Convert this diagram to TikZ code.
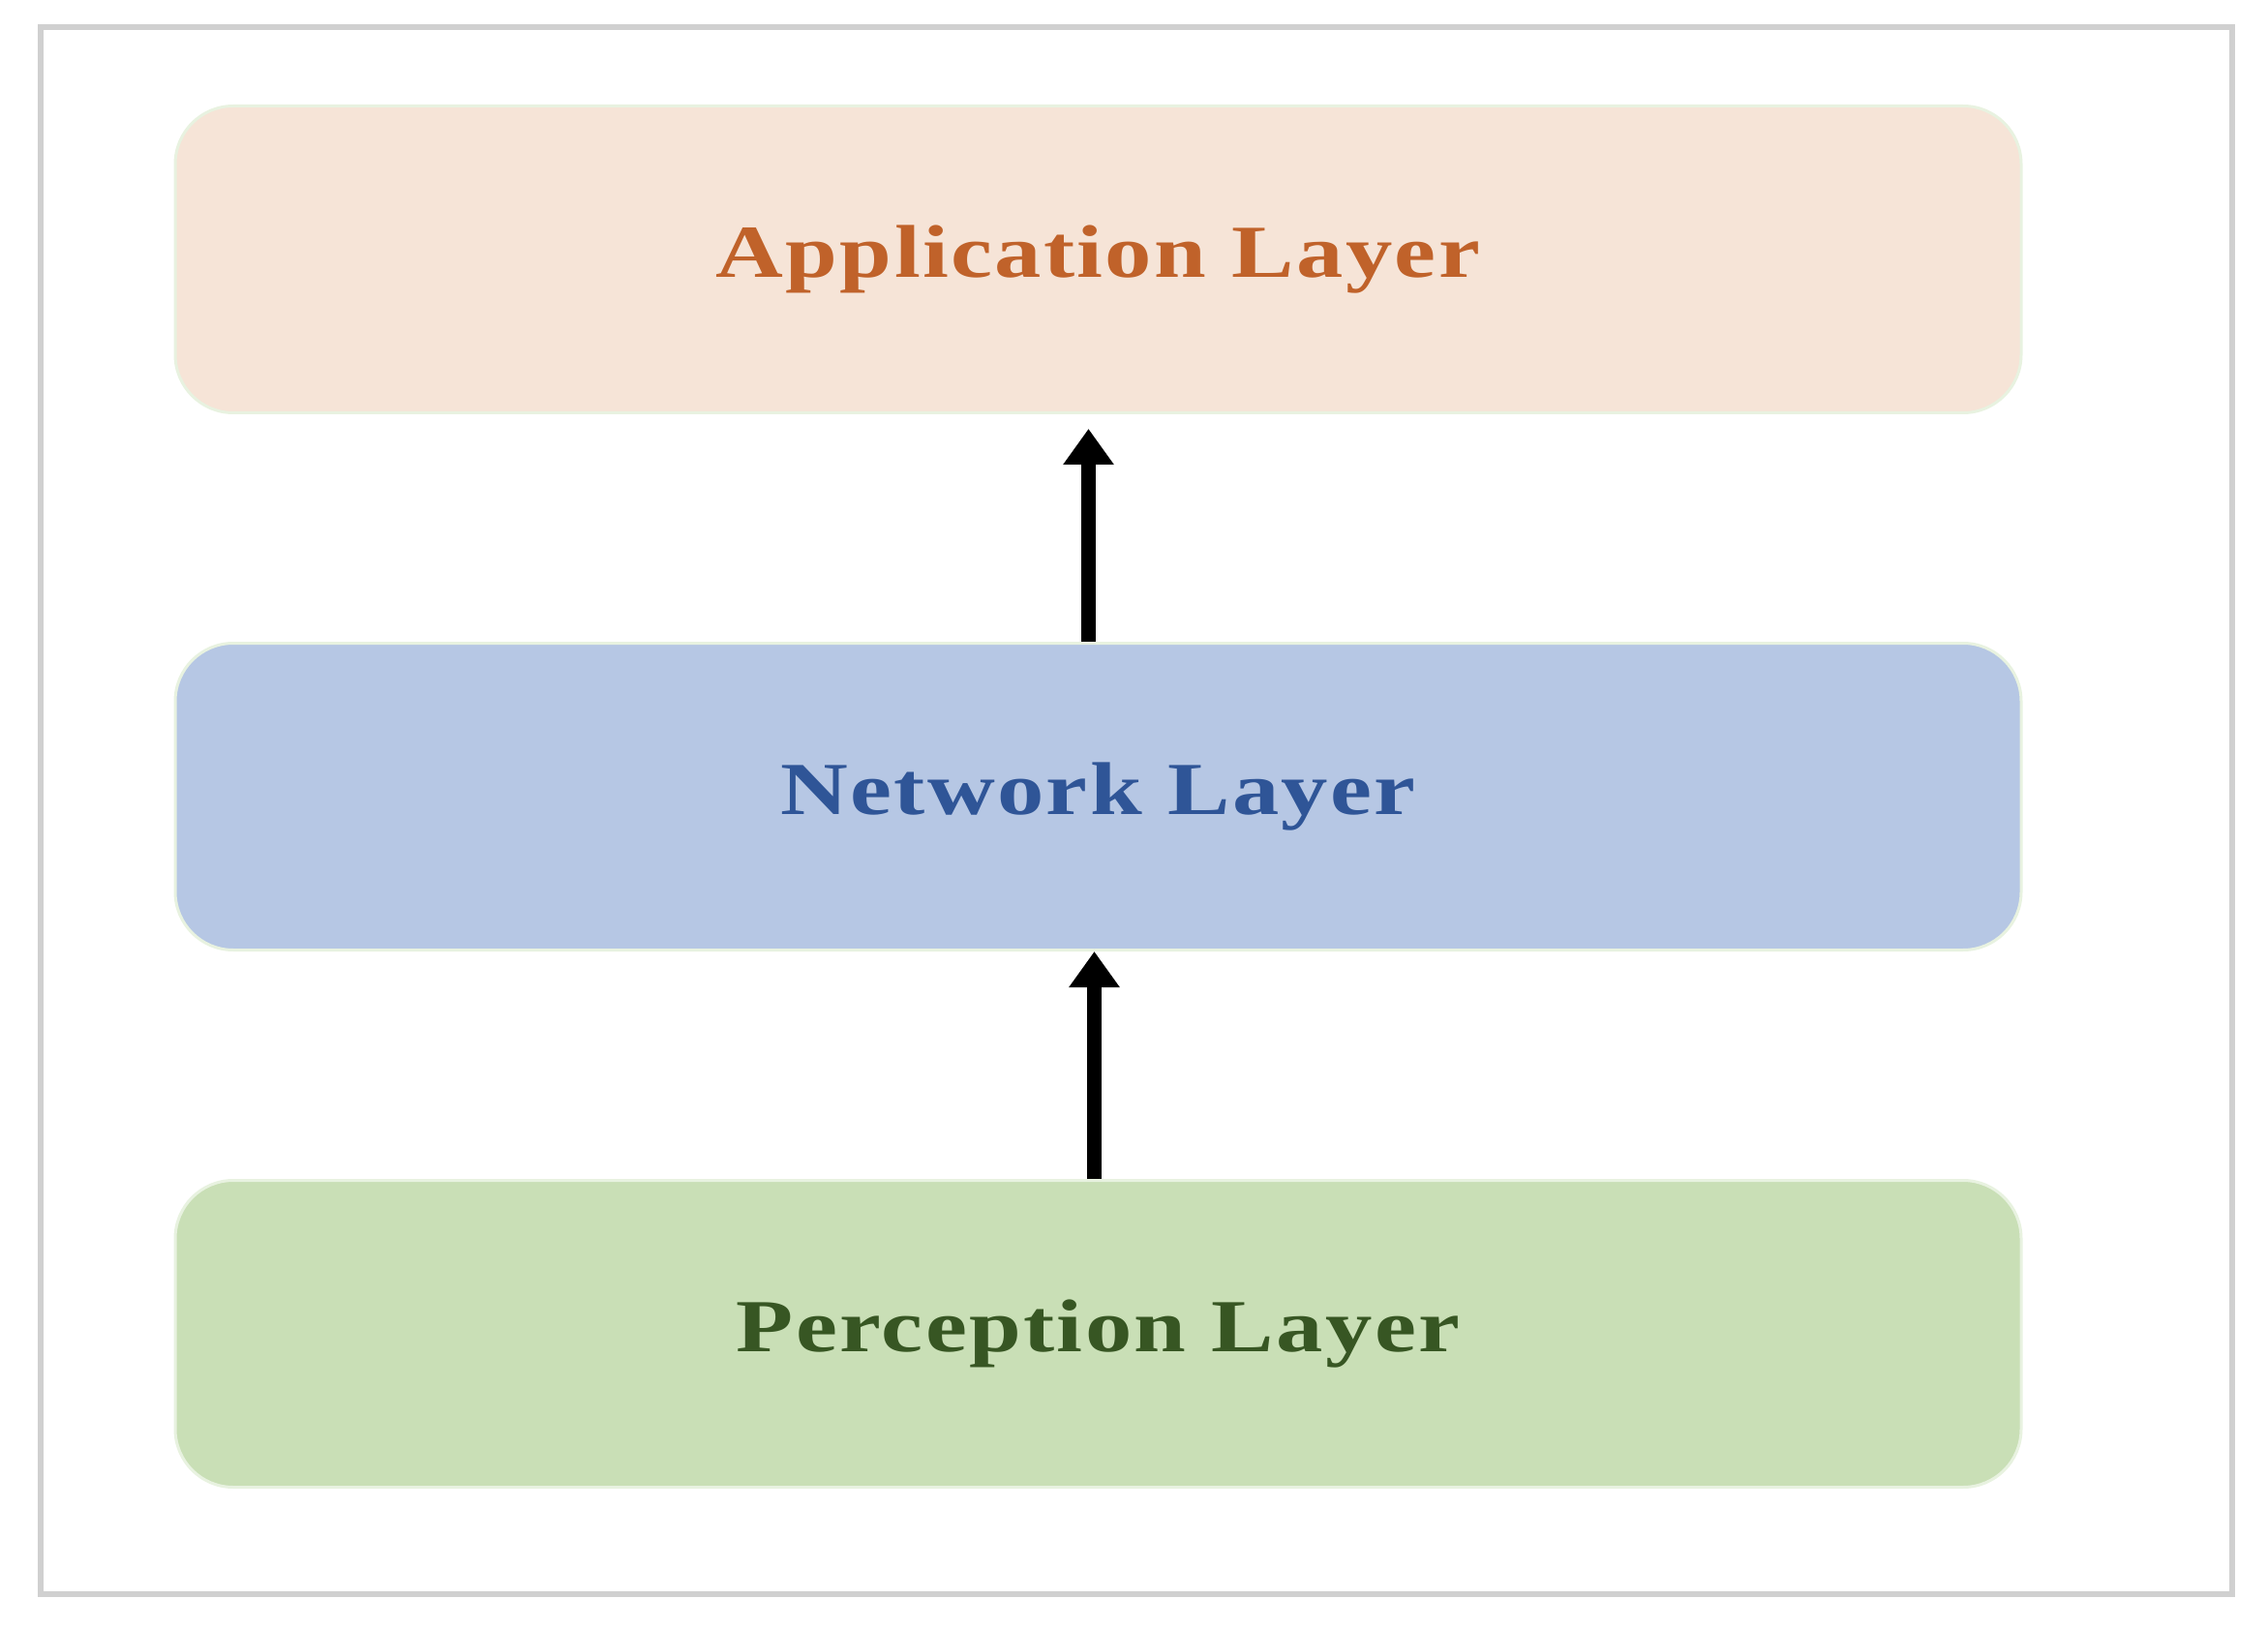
\documentclass[tikz,border=0pt]{standalone}
\usepackage{fontspec}
\setmainfont{Liberation Serif}
\newfontfamily\layerfont[FakeStretch=1.25, LetterSpace=3]{Liberation Serif}
\usetikzlibrary{arrows.meta, positioning}
\definecolor{framegray}{RGB}{208,208,208}
\definecolor{edgegreen}{RGB}{232,242,224}
\definecolor{appfill}{RGB}{246,228,215}
\definecolor{apptext}{RGB}{192,98,42}
\definecolor{netfill}{RGB}{182,199,228}
\definecolor{nettext}{RGB}{47,85,151}
\definecolor{percfill}{RGB}{201,223,182}
\definecolor{perctext}{RGB}{55,86,35}
\tikzstyle{arrow} = [line width=1.5mm, -{Triangle[width=5mm, length=3.7mm]}]

\begin{document}
\begin{tikzpicture}[
    node distance=2.35cm,
    layer/.style={
        rectangle,
        rounded corners=6mm,
        minimum width=19.07cm,
        minimum height=3.17cm,
        text centered,
        draw=edgegreen,
        line width=0.3mm,
        font=\layerfont\bfseries\fontsize{22}{26}\selectfont
    }
]
    \useasboundingbox (0,0) rectangle (23.43,-16.83);
    \draw[framegray, line width=0.6mm] (0.42,-0.28) rectangle (23.06,-16.47);

    \node[layer, fill=appfill, text=apptext] (app) at (11.345,-2.68)
        {Application Layer};

    \node[layer, fill=netfill, text=nettext, below=of app]
        (network)
        {Network Layer};

    \node[layer, fill=percfill, text=perctext, below=of network]
        (perception)
        {Perception Layer};

    \draw[arrow] ([xshift=-1mm]network.north) -- ([xshift=-1mm, yshift=-1.5mm]app.south);
    \draw[arrow] ([xshift=-0.4mm]perception.north) -- ([xshift=-0.4mm]network.south);
\end{tikzpicture}
\end{document}
